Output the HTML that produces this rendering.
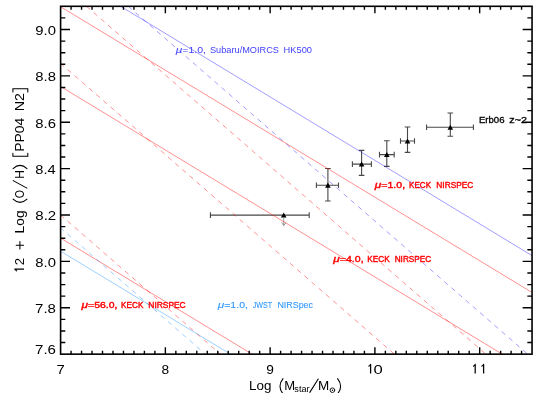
<!DOCTYPE html>
<html><head><meta charset="utf-8"><title>plot</title>
<style>html,body{margin:0;padding:0;background:#fff;}body{width:546px;height:393px;overflow:hidden;}svg{display:block;will-change:transform;}text{font-family:"Liberation Sans",sans-serif;}</style>
</head><body>
<svg width="546" height="393" viewBox="0 0 546 393">
<rect x="0" y="0" width="546" height="393" fill="#ffffff"/>
<defs><clipPath id="c"><rect x="60.60" y="6.30" width="471.45" height="347.85"/></clipPath></defs>
<g stroke="#484848" stroke-width="1.1" fill="none">
<path d="M210.4 215.1H309.2 M210.4 212.3V217.9 M309.2 212.3V217.9"/>
<path d="M316.4 185.2H338.5 M316.4 182.4V188.0 M338.5 182.4V188.0"/>
<path d="M327.9 168.5V201.0 M325.1 168.5H330.7 M325.1 201.0H330.7"/>
<path d="M352.4 164.1H371.4 M352.4 161.3V166.9 M371.4 161.3V166.9"/>
<path d="M361.6 150.4V175.4 M358.8 150.4H364.4 M358.8 175.4H364.4"/>
<path d="M379.5 154.6H394.2 M379.5 151.8V157.4 M394.2 151.8V157.4"/>
<path d="M386.8 140.7V166.4 M384.0 140.7H389.6 M384.0 166.4H389.6"/>
<path d="M400.5 141.0H414.5 M400.5 138.2V143.8 M414.5 138.2V143.8"/>
<path d="M407.5 127.0V152.4 M404.7 127.0H410.3 M404.7 152.4H410.3"/>
<path d="M426.6 127.3H473.4 M426.6 124.5V130.1 M473.4 124.5V130.1"/>
<path d="M450.3 113.0V136.3 M447.5 113.0H453.1 M447.5 136.3H453.1"/>
</g>
<path d="M283.7 217.6V225.6 M281.6 222.4L283.7 225.6L285.9 222.4" stroke="#777" stroke-width="0.7" fill="none"/>
<path d="M283.70 212.50L286.50 217.60L280.90 217.60Z" fill="#000"/>
<path d="M327.90 182.60L330.70 187.70L325.10 187.70Z" fill="#000"/>
<path d="M361.60 161.50L364.40 166.60L358.80 166.60Z" fill="#000"/>
<path d="M386.80 152.00L389.60 157.10L384.00 157.10Z" fill="#000"/>
<path d="M407.50 138.40L410.30 143.50L404.70 143.50Z" fill="#000"/>
<path d="M450.30 124.70L453.10 129.80L447.50 129.80Z" fill="#000"/>
<g clip-path="url(#c)" fill="none">
<line x1="-539.40" y1="-356.85" x2="660.60" y2="370.35" stroke="#ff0000" stroke-width="0.8" stroke-opacity="0.55"/>
<line x1="-539.40" y1="-277.10" x2="660.60" y2="450.10" stroke="#ff0000" stroke-width="0.8" stroke-opacity="0.55"/>
<line x1="-539.40" y1="-125.50" x2="660.60" y2="601.70" stroke="#ff0000" stroke-width="0.8" stroke-opacity="0.55"/>
<line x1="-68.00" y1="-108.00" x2="1132.00" y2="619.20" stroke="#2a20ff" stroke-width="0.8" stroke-opacity="0.55"/>
<line x1="-539.40" y1="-112.40" x2="660.60" y2="614.80" stroke="#1e90ff" stroke-width="0.8" stroke-opacity="0.55"/>
<line x1="86.50" y1="6.30" x2="686.50" y2="528.90" stroke="#ff0000" stroke-width="0.8" stroke-opacity="0.55" stroke-dasharray="4.85 4.67"/>
<line x1="60.30" y1="63.14" x2="660.60" y2="586.00" stroke="#ff0000" stroke-width="0.8" stroke-opacity="0.55" stroke-dasharray="4.85 4.67"/>
<line x1="60.30" y1="214.74" x2="660.60" y2="737.60" stroke="#ff0000" stroke-width="0.8" stroke-opacity="0.55" stroke-dasharray="4.85 4.67"/>
<line x1="128.30" y1="6.30" x2="728.30" y2="528.90" stroke="#2a20ff" stroke-width="0.8" stroke-opacity="0.55" stroke-dasharray="4.85 4.67"/>
<line x1="60.30" y1="227.74" x2="660.60" y2="750.60" stroke="#1e90ff" stroke-width="0.8" stroke-opacity="0.55" stroke-dasharray="4.85 4.67"/>
</g>
<g stroke="#000" stroke-width="1.6" fill="none" stroke-linecap="butt">
<rect x="60.60" y="6.30" width="471.45" height="347.85"/>
<path d="M71.08 354.15v-3.50M71.08 6.30v3.50M81.55 354.15v-3.50M81.55 6.30v3.50M92.03 354.15v-3.50M92.03 6.30v3.50M102.51 354.15v-3.50M102.51 6.30v3.50M112.98 354.15v-3.50M112.98 6.30v3.50M123.46 354.15v-3.50M123.46 6.30v3.50M133.94 354.15v-3.50M133.94 6.30v3.50M144.41 354.15v-3.50M144.41 6.30v3.50M154.89 354.15v-3.50M154.89 6.30v3.50M165.37 354.15v-7.00M165.37 6.30v7.00M175.84 354.15v-3.50M175.84 6.30v3.50M186.32 354.15v-3.50M186.32 6.30v3.50M196.80 354.15v-3.50M196.80 6.30v3.50M207.27 354.15v-3.50M207.27 6.30v3.50M217.75 354.15v-3.50M217.75 6.30v3.50M228.23 354.15v-3.50M228.23 6.30v3.50M238.70 354.15v-3.50M238.70 6.30v3.50M249.18 354.15v-3.50M249.18 6.30v3.50M259.66 354.15v-3.50M259.66 6.30v3.50M270.13 354.15v-7.00M270.13 6.30v7.00M280.61 354.15v-3.50M280.61 6.30v3.50M291.09 354.15v-3.50M291.09 6.30v3.50M301.56 354.15v-3.50M301.56 6.30v3.50M312.04 354.15v-3.50M312.04 6.30v3.50M322.52 354.15v-3.50M322.52 6.30v3.50M332.99 354.15v-3.50M332.99 6.30v3.50M343.47 354.15v-3.50M343.47 6.30v3.50M353.95 354.15v-3.50M353.95 6.30v3.50M364.42 354.15v-3.50M364.42 6.30v3.50M374.90 354.15v-7.00M374.90 6.30v7.00M385.38 354.15v-3.50M385.38 6.30v3.50M395.85 354.15v-3.50M395.85 6.30v3.50M406.33 354.15v-3.50M406.33 6.30v3.50M416.81 354.15v-3.50M416.81 6.30v3.50M427.28 354.15v-3.50M427.28 6.30v3.50M437.76 354.15v-3.50M437.76 6.30v3.50M448.24 354.15v-3.50M448.24 6.30v3.50M458.71 354.15v-3.50M458.71 6.30v3.50M469.19 354.15v-3.50M469.19 6.30v3.50M479.67 354.15v-7.00M479.67 6.30v7.00M490.14 354.15v-3.50M490.14 6.30v3.50M500.62 354.15v-3.50M500.62 6.30v3.50M511.10 354.15v-3.50M511.10 6.30v3.50M521.57 354.15v-3.50M521.57 6.30v3.50M60.60 342.56h4.70M532.05 342.56h-4.70M60.60 330.96h4.70M532.05 330.96h-4.70M60.60 319.36h4.70M532.05 319.36h-4.70M60.60 307.77h9.40M532.05 307.77h-9.40M60.60 296.17h4.70M532.05 296.17h-4.70M60.60 284.58h4.70M532.05 284.58h-4.70M60.60 272.99h4.70M532.05 272.99h-4.70M60.60 261.39h9.40M532.05 261.39h-9.40M60.60 249.80h4.70M532.05 249.80h-4.70M60.60 238.20h4.70M532.05 238.20h-4.70M60.60 226.60h4.70M532.05 226.60h-4.70M60.60 215.01h9.40M532.05 215.01h-9.40M60.60 203.41h4.70M532.05 203.41h-4.70M60.60 191.82h4.70M532.05 191.82h-4.70M60.60 180.22h4.70M532.05 180.22h-4.70M60.60 168.63h9.40M532.05 168.63h-9.40M60.60 157.04h4.70M532.05 157.04h-4.70M60.60 145.44h4.70M532.05 145.44h-4.70M60.60 133.85h4.70M532.05 133.85h-4.70M60.60 122.25h9.40M532.05 122.25h-9.40M60.60 110.65h4.70M532.05 110.65h-4.70M60.60 99.06h4.70M532.05 99.06h-4.70M60.60 87.46h4.70M532.05 87.46h-4.70M60.60 75.87h9.40M532.05 75.87h-9.40M60.60 64.28h4.70M532.05 64.28h-4.70M60.60 52.68h4.70M532.05 52.68h-4.70M60.60 41.09h4.70M532.05 41.09h-4.70M60.60 29.49h9.40M532.05 29.49h-9.40M60.60 17.89h4.70M532.05 17.89h-4.70" stroke-width="1.4"/>
</g>
<g fill="#000">
<text x="56.48" y="373.60" font-size="13.5px" textLength="8.27" lengthAdjust="spacingAndGlyphs">7</text>
<text x="161.56" y="373.60" font-size="13.5px" textLength="7.63" lengthAdjust="spacingAndGlyphs">8</text>
<text x="266.33" y="373.60" font-size="13.5px" textLength="7.63" lengthAdjust="spacingAndGlyphs">9</text>
<text x="373.58" y="373.60" font-size="13.5px" textLength="9.25" lengthAdjust="spacingAndGlyphs">0</text>
<path d="M368.50 366.40Q370.10 365.70 370.60 364.40V373.50M473.10 366.40Q474.70 365.70 475.20 364.40V373.50M481.50 366.40Q483.10 365.70 483.60 364.40V373.50" fill="none" stroke="#000" stroke-width="1.25" stroke-linejoin="round"/>
<text x="35.06" y="354.40" font-size="13.5px" textLength="20.93" lengthAdjust="spacingAndGlyphs">7.6</text>
<text x="35.06" y="313.17" font-size="13.5px" textLength="20.93" lengthAdjust="spacingAndGlyphs">7.8</text>
<text x="35.35" y="266.79" font-size="13.5px" textLength="20.63" lengthAdjust="spacingAndGlyphs">8.0</text>
<text x="35.34" y="220.41" font-size="13.5px" textLength="20.93" lengthAdjust="spacingAndGlyphs">8.2</text>
<text x="35.36" y="174.03" font-size="13.5px" textLength="20.35" lengthAdjust="spacingAndGlyphs">8.4</text>
<text x="35.35" y="127.65" font-size="13.5px" textLength="20.63" lengthAdjust="spacingAndGlyphs">8.6</text>
<text x="35.35" y="81.27" font-size="13.5px" textLength="20.63" lengthAdjust="spacingAndGlyphs">8.8</text>
<text x="35.35" y="34.89" font-size="13.5px" textLength="20.63" lengthAdjust="spacingAndGlyphs">9.0</text>
</g>
<g fill="#000">
<text x="249.04" y="389.60" font-size="12.6px" textLength="22.38" lengthAdjust="spacingAndGlyphs">Log</text>
<text x="284.26" y="389.60" font-size="12.6px" textLength="10.87" lengthAdjust="spacingAndGlyphs">M</text>
<text x="294.32" y="392.00" font-size="8.3px" textLength="15.28" lengthAdjust="spacingAndGlyphs">star</text>
<text x="318.13" y="389.60" font-size="12.6px" textLength="11.24" lengthAdjust="spacingAndGlyphs">M</text>
</g>
<g fill="none" stroke="#000" stroke-width="1.05" stroke-linecap="round">
<path d="M283.0 378.6Q277.0 386.2 283.0 393.8"/>
<path d="M337.6 378.6Q343.6 386.2 337.6 393.8"/>
<path d="M309.8 392.4L318.2 379.0"/>
<circle cx="332.4" cy="390.2" r="2.3" stroke-width="0.9"/>
</g>
<circle cx="332.4" cy="390.2" r="0.7" fill="#000"/>
<g transform="translate(24.0 271.5) rotate(-90)">
<g fill="#000">
<text x="6.27" y="0.00" font-size="12.6px" textLength="7.37" lengthAdjust="spacingAndGlyphs">2</text>
<path d="M0.20 -7.20Q1.80 -7.90 2.30 -9.20V0.00" fill="none" stroke="#000" stroke-width="1.2" stroke-linejoin="round"/>
<text x="38.11" y="0.00" font-size="12.6px" textLength="22.93" lengthAdjust="spacingAndGlyphs">Log</text>
<text x="73.28" y="0.00" font-size="12.6px" textLength="8.29" lengthAdjust="spacingAndGlyphs">O</text>
<text x="92.74" y="0.00" font-size="12.6px" textLength="8.72" lengthAdjust="spacingAndGlyphs">H</text>
<text x="119.70" y="0.00" font-size="12.6px" textLength="33.95" lengthAdjust="spacingAndGlyphs">PP04</text>
<text x="160.26" y="0.00" font-size="12.6px" textLength="18.33" lengthAdjust="spacingAndGlyphs">N2</text>
</g>
<g fill="none" stroke="#000" stroke-width="1.05" stroke-linecap="round">
<path d="M22.6 -4.1H30.0M26.3 -7.8V-0.4"/>
<path d="M72.4 -10.9Q65.9 -4.0 72.4 3.0"/>
<path d="M102.9 -10.9Q109.4 -4.0 102.9 3.0"/>
<path d="M83.4 2.9L90.9 -10.8"/>
<path d="M118.3 -11.1H115.2V3.8H118.3"/>
<path d="M179.6 -11.1H182.7V3.8H179.6"/>
</g>
</g>
<g fill="#4040ff" stroke="#4040ff" stroke-width="0.0">
<text x="175.75" y="53.10" font-size="8.5px" font-style="italic" textLength="6.49" lengthAdjust="spacingAndGlyphs">&#956;</text>
<text x="182.28" y="53.10" font-size="8.5px" textLength="23.73" lengthAdjust="spacingAndGlyphs">=1.0,</text>
<text x="209.96" y="53.10" font-size="8.5px" textLength="69.05" lengthAdjust="spacingAndGlyphs">Subaru/MOIRCS</text>
<text x="283.58" y="53.10" font-size="8.5px" textLength="28.39" lengthAdjust="spacingAndGlyphs">HK500</text>
</g>
<g fill="#ff0000" stroke="#ff0000" stroke-width="0.38">
<text x="374.75" y="187.60" font-size="8.5px" font-style="italic" textLength="6.49" lengthAdjust="spacingAndGlyphs">&#956;</text>
<text x="381.28" y="187.60" font-size="8.5px" textLength="23.84" lengthAdjust="spacingAndGlyphs">=1.0,</text>
<text x="409.09" y="187.60" font-size="8.5px" textLength="21.96" lengthAdjust="spacingAndGlyphs">KECK</text>
<text x="436.37" y="187.60" font-size="8.5px" textLength="37.03" lengthAdjust="spacingAndGlyphs">NIRSPEC</text>
</g>
<g fill="#ff0000" stroke="#ff0000" stroke-width="0.38">
<text x="333.25" y="261.90" font-size="8.5px" font-style="italic" textLength="6.49" lengthAdjust="spacingAndGlyphs">&#956;</text>
<text x="339.78" y="261.90" font-size="8.5px" textLength="23.84" lengthAdjust="spacingAndGlyphs">=4.0,</text>
<text x="367.37" y="261.90" font-size="8.5px" textLength="22.48" lengthAdjust="spacingAndGlyphs">KECK</text>
<text x="394.67" y="261.90" font-size="8.5px" textLength="36.61" lengthAdjust="spacingAndGlyphs">NIRSPEC</text>
</g>
<g fill="#ff0000" stroke="#ff0000" stroke-width="0.38">
<text x="81.55" y="308.20" font-size="8.5px" font-style="italic" textLength="6.49" lengthAdjust="spacingAndGlyphs">&#956;</text>
<text x="88.09" y="308.20" font-size="8.5px" textLength="29.28" lengthAdjust="spacingAndGlyphs">=56.0,</text>
<text x="121.08" y="308.20" font-size="8.5px" textLength="22.27" lengthAdjust="spacingAndGlyphs">KECK</text>
<text x="148.36" y="308.20" font-size="8.5px" textLength="37.33" lengthAdjust="spacingAndGlyphs">NIRSPEC</text>
</g>
<g fill="#3399ff" stroke="#3399ff" stroke-width="0.1">
<text x="217.65" y="308.20" font-size="8.5px" font-style="italic" textLength="6.49" lengthAdjust="spacingAndGlyphs">&#956;</text>
<text x="224.18" y="308.20" font-size="8.5px" textLength="23.84" lengthAdjust="spacingAndGlyphs">=1.0,</text>
<text x="252.69" y="308.20" font-size="8.5px" textLength="19.43" lengthAdjust="spacingAndGlyphs">JWST</text>
<text x="277.42" y="308.20" font-size="8.5px" textLength="35.56" lengthAdjust="spacingAndGlyphs">NIRSpec</text>
</g>
<g fill="#000" stroke="#000" stroke-width="0.3">
<text x="478.98" y="122.70" font-size="8.8px" textLength="25.54" lengthAdjust="spacingAndGlyphs">Erb06</text>
<text x="509.39" y="122.70" font-size="8.8px" textLength="17.75" lengthAdjust="spacingAndGlyphs">z~2</text>
</g>
</svg>
</body></html>
